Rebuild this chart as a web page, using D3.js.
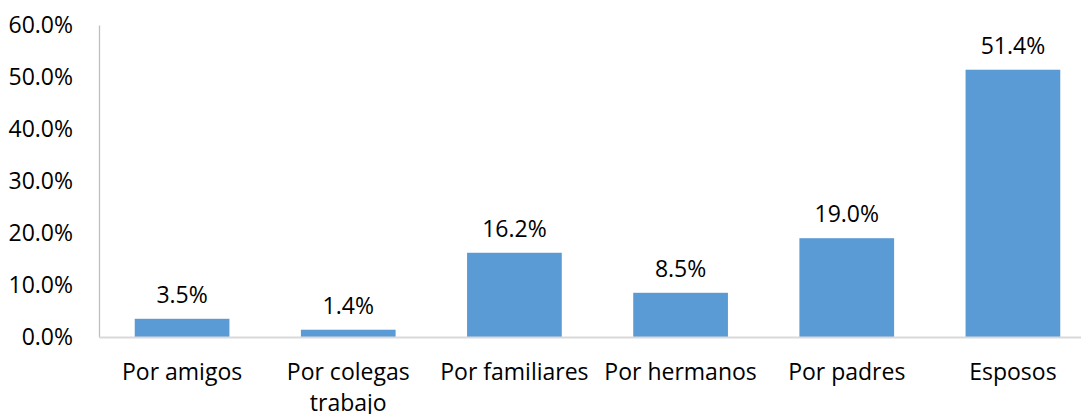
<!DOCTYPE html>
<html>
<head>
<meta charset="utf-8">
<script src="https://cdn.jsdelivr.net/npm/d3@7"></script>
<style>
  body { margin: 0; background: #fff; }
  text { font-family: "Open Sans", sans-serif; fill: #000; }
</style>
</head>
<body>
<div class="grafico"></div>
<script>
const width = 1081, height = 414;

const categorias = ["Por amigos", "Por colegas trabajo", "Por familiares", "Por hermanos", "Por padres", "Esposos"];
const valores = [3.5, 1.4, 16.2, 8.5, 19.0, 51.4];
const ticksY = [0, 10, 20, 30, 40, 50, 60];

const margin = { top: 25, left: 99, bottom: 77 };

const svg = d3.select(".grafico")
    .append("svg")
    .attr("width", width)
    .attr("height", height);

const x = d3.scaleBand()
    .domain(categorias)
    .range([margin.left, margin.left + 997])
    .paddingInner(0.43)
    .paddingOuter(0.215);

const y = d3.scaleLinear()
    .domain([0, 60])
    .range([height - margin.bottom, margin.top]);

// eje Y
const ejeY = svg.append("g")
    .attr("transform", `translate(${margin.left},0)`)
    .call(d3.axisLeft(y).tickValues(ticksY).tickSize(0).tickPadding(26)
        .tickFormat(d => d.toFixed(1) + "%"));
ejeY.select(".domain").attr("stroke", "#bfbfbf").attr("stroke-width", 1.3);
ejeY.selectAll("text").style("font-size", "23px").attr("fill", "#000");

// barras
svg.selectAll("rect.barra")
    .data(valores)
    .enter().append("rect")
    .attr("class", "barra")
    .attr("x", (d, i) => x(categorias[i]))
    .attr("y", d => y(d))
    .attr("width", x.bandwidth())
    .attr("height", d => y(0) - y(d))
    .attr("fill", "#5b9bd5");

// eje X
const ejeX = svg.append("g")
    .attr("transform", `translate(0,${y(0)})`)
    .call(d3.axisBottom(x).tickSize(0).tickPadding(0));
ejeX.select(".domain").attr("stroke", "#d9d9d9").attr("stroke-width", 2);
ejeX.selectAll(".tick text").remove();
ejeX.selectAll(".tick").each(function (d) {
    const lineas = d === "Por colegas trabajo" ? ["Por colegas", "trabajo"] : [d];
    const t = d3.select(this).append("text")
        .attr("text-anchor", "middle")
        .style("font-size", "23px");
    lineas.forEach((l, k) => {
        t.append("tspan").attr("x", 0).attr("y", 43 + k * 31).text(l);
    });
});

// etiquetas de datos
svg.selectAll("text.etiqueta")
    .data(valores)
    .enter().append("text")
    .attr("class", "etiqueta")
    .attr("x", (d, i) => x(categorias[i]) + x.bandwidth() / 2)
    .attr("y", d => y(d) - 16)
    .attr("text-anchor", "middle")
    .style("font-size", "23px")
    .text(d => d.toFixed(1) + "%");
</script>
</body>
</html>
